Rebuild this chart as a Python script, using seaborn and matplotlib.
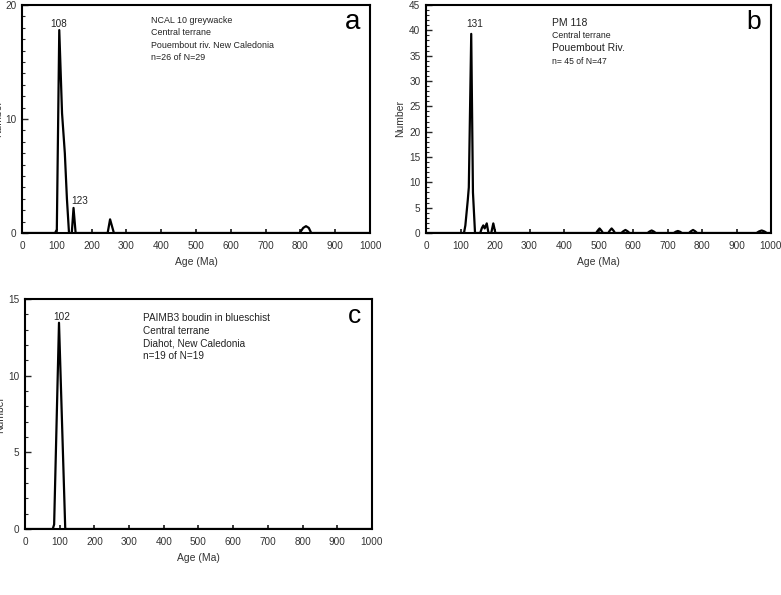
import matplotlib
matplotlib.use("Agg")
import matplotlib.pyplot as plt
import seaborn as sns
import numpy as np
import pandas as pd
from matplotlib.ticker import MultipleLocator

sns.set_style("ticks")
plt.rcParams['font.family'] = ['Liberation Sans', 'DejaVu Sans']

# Panel a: NCAL 10 greywacke
age_a = [0, 95, 100, 107, 115, 123, 129, 135, 143, 148, 154, 246, 253, 264, 798, 808, 816, 824, 831, 1000]
num_a = [0, 0, 0.3, 17.8, 10.5, 7.0, 3.0, 0, 0, 2.2, 0, 0, 1.2, 0, 0, 0.45, 0.6, 0.45, 0, 0]

# Panel b: PM 118
age_b = [0, 110, 114, 121, 124, 131, 136, 142, 157, 162, 166, 170, 176, 181, 189, 195, 201,
         493, 498, 503, 508, 513, 528, 533, 538, 543, 548, 566, 572, 578, 584, 590,
         642, 648, 654, 660, 666, 718, 724, 730, 736, 742, 762, 768, 774, 780, 786,
         958, 965, 973, 981, 988, 1000]
num_b = [0, 0, 1.5, 6.5, 9, 39.3, 8, 0, 0, 1.0, 1.5, 0.9, 1.9, 0, 0, 1.9, 0,
         0, 0.5, 0.9, 0.5, 0, 0, 0.5, 0.9, 0.5, 0, 0, 0.35, 0.6, 0.35, 0,
         0, 0.3, 0.5, 0.3, 0, 0, 0.25, 0.4, 0.25, 0, 0, 0.35, 0.6, 0.35, 0,
         0, 0.3, 0.5, 0.3, 0, 0]

# Panel c: PAIMB3 boudin in blueschist
age_c = [0, 80, 84, 98, 116, 120, 1000]
num_c = [0, 0, 0.3, 13.45, 0, 0, 0]

xticks = list(range(0, 1001, 100))

fig = plt.figure(figsize=(7.81, 5.95), dpi=100)
ax_a = fig.add_axes([0.0282, 0.6084, 0.4456, 0.3832])
ax_b = fig.add_axes([0.5455, 0.6084, 0.4417, 0.3832])
ax_c = fig.add_axes([0.0320, 0.1109, 0.4443, 0.3866])

panels = [
    (ax_a, age_a, num_a, 20, 10, "a", 20),
    (ax_b, age_b, num_b, 45, 5, "b", 19),
    (ax_c, age_c, num_c, 15, 5, "c", 19),
]

for ax, x, y, ymax, ystep, letter, lsize in panels:
    df = pd.DataFrame({"Age": x, "Number": y})
    sns.lineplot(data=df, x="Age", y="Number", ax=ax, color="black", lw=1.6,
                 estimator=None, sort=False)
    ax.set_xlim(0, 1000)
    ax.set_ylim(0, ymax)
    ax.set_xticks(xticks)
    ax.yaxis.set_major_locator(MultipleLocator(ystep))
    ax.yaxis.set_minor_locator(MultipleLocator(1))
    ax.tick_params(axis='x', direction='in', length=3, width=1.3, labelsize=7.2, pad=6,
                   labelcolor='#333333')
    ax.tick_params(axis='y', which='major', direction='in', length=4, width=1.0,
                   labelsize=7.2, pad=4, labelcolor='#333333')
    ax.tick_params(axis='y', which='minor', direction='in', length=2, width=0.8)
    for s in ax.spines.values():
        s.set_visible(True)
        s.set_linewidth(1.5)
        s.set_color('black')
    ax.set_xlabel("Age (Ma)", fontsize=7.5, color='#333333', labelpad=4)
    ax.set_ylabel("Number", fontsize=7.5, color='#333333')
    ax.text(0.951, 0.925, letter, transform=ax.transAxes, fontsize=lsize,
            ha='center', va='center', color='black')

ax_a.yaxis.set_label_coords(-0.055, 0.5)
ax_b.yaxis.set_label_coords(-0.061, 0.5)
ax_c.yaxis.set_label_coords(-0.058, 0.5)

# Panel a annotations
ax_a.text(106, 18.35, "108", fontsize=7.2, ha='center', va='center', color='#222222')
ax_a.text(167, 2.8, "123", fontsize=7.2, ha='center', va='center', color='#222222')
ya = [0.934, 0.879, 0.824, 0.769]
txt_a = ["NCAL 10 greywacke", "Central terrane", "Pouembout riv. New Caledonia", "n=26 of N=29"]
for t, yy in zip(txt_a, ya):
    ax_a.text(0.371, yy, t, transform=ax_a.transAxes, fontsize=6.4,
              ha='left', va='center', color='#222222')

# Panel b annotations
ax_b.text(142, 41.2, "131", fontsize=7.2, ha='center', va='center', color='#222222')
txt_b = [("PM 118", 7.5), ("Central terrane", 6.3),
         ("Pouembout Riv.", 7.5), ("n= 45 of N=47", 6.2)]
yb = [0.921, 0.868, 0.811, 0.754]
for (t, fs), yy in zip(txt_b, yb):
    ax_b.text(0.365, yy, t, transform=ax_b.transAxes, fontsize=fs,
              ha='left', va='center', color='#222222')

# Panel c annotations
ax_c.text(107, 13.8, "102", fontsize=7.2, ha='center', va='center', color='#222222')
txt_c = ["PAIMB3 boudin in blueschist", "Central terrane",
         "Diahot, New Caledonia", "n=19 of N=19"]
yc = [0.917, 0.861, 0.806, 0.750]
for t, yy in zip(txt_c, yc):
    ax_c.text(0.339, yy, t, transform=ax_c.transAxes, fontsize=7.2,
              ha='left', va='center', color='#222222')

fig.savefig("out.png", dpi=100)
